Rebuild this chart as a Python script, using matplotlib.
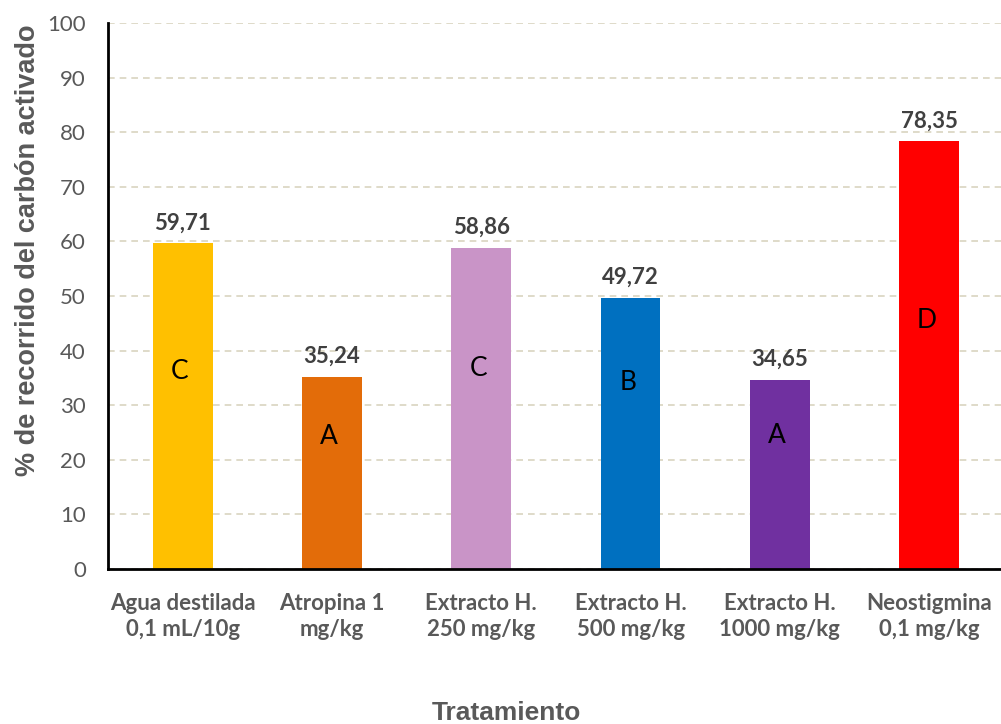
import matplotlib
matplotlib.use("Agg")
import matplotlib.pyplot as plt

# Data
categories = ["Agua destilada\n0,1 mL/10g", "Atropina 1\nmg/kg", "Extracto H.\n250 mg/kg",
              "Extracto H.\n500 mg/kg", "Extracto H.\n1000 mg/kg", "Neostigmina\n0,1 mg/kg"]
values = [59.71, 35.24, 58.86, 49.72, 34.65, 78.35]
value_labels = ["59,71", "35,24", "58,86", "49,72", "34,65", "78,35"]
groups = ["C", "A", "C", "B", "A", "D"]
group_y = [36.1, 24.2, 36.8, 34.2, 24.5, 45.6]
colors = ["#FFC000", "#E36C09", "#C994C7", "#0070C0", "#7030A0", "#FF0000"]
yticks = [0, 10, 20, 30, 40, 50, 60, 70, 80, 90, 100]

body_font = ["Lato", "DejaVu Sans"]
title_font = ["Liberation Sans", "DejaVu Sans"]
grey = "#595959"

fig = plt.figure(figsize=(10.01, 7.24), dpi=100)
ax = fig.add_axes([0.1079, 0.2141, 0.895, 0.7541])

x = list(range(len(categories)))
ax.bar(x, values, width=0.40, color=colors, zorder=3)

for xi, v, lab in zip(x, values, value_labels):
    ax.annotate(lab, (xi, v), xytext=(0, 7), textcoords="offset points",
                ha="center", va="bottom", fontsize=16, fontweight="bold",
                color="#404040", family=body_font)

for xi, g, gy in zip(x, groups, group_y):
    ax.text(xi - 0.02, gy, g, ha="center", va="center", fontsize=19,
            color="black", family=body_font, zorder=4)

ax.set_xlim(-0.5, len(categories) - 0.5)
ax.set_ylim(0, 100)
ax.set_yticks(yticks)
ax.set_yticklabels([str(t) for t in yticks], fontsize=16, color=grey, family=body_font)
ax.set_xticks(x)
ax.set_xticklabels(categories, fontsize=16, fontweight="bold", color=grey,
                   family=body_font, linespacing=1.3)
ax.tick_params(axis="both", length=0)
ax.tick_params(axis="y", pad=16)
ax.tick_params(axis="x", pad=17)

ax.yaxis.grid(True, linestyle=(0, (4, 3)), color="#D9D4C0", linewidth=1.2, zorder=0)
ax.set_axisbelow(True)
for side in ("top", "right"):
    ax.spines[side].set_visible(False)
for side in ("left", "bottom"):
    ax.spines[side].set_color("black")
    ax.spines[side].set_linewidth(2)
    ax.spines[side].set_zorder(5)

fig.text(0.028, 0.655, "% de recorrido del carbón activado", rotation=90,
         ha="center", va="center", fontsize=19.5, fontweight="bold",
         color=grey, family=title_font)
fig.text(0.506, 0.015, "Tratamiento", ha="center", va="center",
         fontsize=19, fontweight="bold", color=grey, family=title_font)

fig.savefig("out.png", dpi=100)
